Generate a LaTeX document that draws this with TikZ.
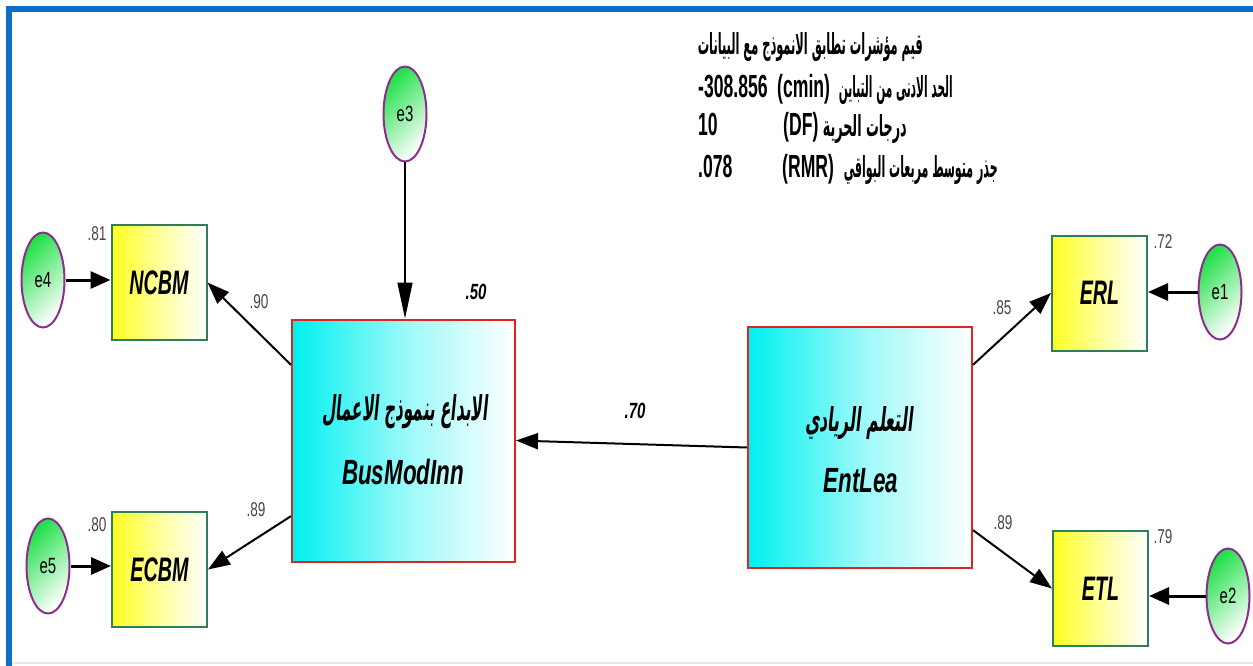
\documentclass[tikz,border=0pt]{standalone}
\usepackage{fontspec}
\usetikzlibrary{arrows.meta,calc,shapes.geometric}
\TeXXeTstate=1
\newfontfamily\arb[Script=Arabic]{DejaVu Sans}
\newfontfamily\arbsl[Script=Arabic,FakeSlant=0.22]{DejaVu Sans}
\newfontfamily\latbox[FakeStretch=0.64]{Liberation Sans}
\newfontfamily\latind[FakeStretch=0.58]{Liberation Sans}
\newfontfamily\latnum[FakeStretch=0.68]{Liberation Sans}
\newfontfamily\latblk[FakeStretch=0.55]{Liberation Sans}
\definecolor{frameblue}{HTML}{0F6FC6}
\definecolor{boxred}{HTML}{E02424}
\definecolor{obsgreen}{HTML}{2E7D5B}
\definecolor{errpurple}{HTML}{8E2C8E}
\definecolor{errgreen}{HTML}{22E04A}
\definecolor{latcyan}{HTML}{00F0F0}
\definecolor{obsyellow}{HTML}{FFFF20}
\definecolor{lblgray}{HTML}{444444}
\tikzset{
  latent/.style={draw=boxred, line width=2pt, minimum width=223pt, minimum height=242pt,
    inner sep=0pt, left color=latcyan, right color=white, middle color=latcyan!40},
  obs/.style={draw=obsgreen, line width=2pt, minimum width=95pt, minimum height=115pt,
    inner sep=0pt, left color=obsyellow, right color=white, middle color=obsyellow!45,
    font=\latind\bfseries\itshape\fontsize{34}{34}\selectfont},
  err/.style={ellipse, draw=errpurple, line width=2pt, minimum width=43pt, minimum height=95pt,
    inner sep=0pt, top color=errgreen, bottom color=white, shading angle=45,
    font=\latnum\fontsize{22}{22}\selectfont},
  boxlat/.style={inner sep=0pt, font=\latbox\bfseries\itshape\fontsize{35}{35}\selectfont},
  boxarb/.style={inner sep=0pt},
  coef/.style={inner sep=0pt, text=lblgray, font=\latnum\fontsize{20}{20}\selectfont},
  bcoef/.style={inner sep=0pt, font=\latnum\bfseries\itshape\fontsize{22}{22}\selectfont},
  blk/.style={inner sep=0pt, anchor=base west, font=\latblk\bfseries\fontsize{32}{32}\selectfont},
  blkarb/.style={inner sep=0pt, anchor=base east},
  path/.style={line width=2pt, -{Triangle[length=22pt,width=16pt]}},
  errpath/.style={line width=3pt, -{Triangle[length=20pt,width=17pt]}},
  e3path/.style={line width=1.5pt, -{Triangle[length=36pt,width=15pt]}},
}
\begin{document}
\begin{tikzpicture}[x=1pt,y=-1pt]
\useasboundingbox (0,0) rectangle (1253,666);
% frame
\draw[draw=frameblue!15, line width=1.5pt] (9,663) -- (1253,663);
\draw[draw=frameblue, line width=6pt] (9,666) -- (9,9) -- (1253,9);

% latent variables
\node[latent] (bus) at (403.5,440.5) {};
\node[boxarb] (busA) at (405,412) {\resizebox{165pt}{26pt}{\arbsl\bfseries\beginR الابداع بنموذج الاعمال\endR}};
\node[boxlat] (busL) at (403,472) {BusModInn};

\node[latent, minimum width=224pt, minimum height=241pt] (ent) at (860,447.5) {};
\node[boxarb] (entA) at (859,423) {\resizebox{108pt}{25pt}{\arbsl\bfseries\beginR التعلم الريادي\endR}};
\node[boxlat] (entL) at (861,481) {EntLea};

% observed variables
\node[obs] (ncbm) at (159,282.5) {NCBM};
\node[obs] (ecbm) at (159.5,569.5) {ECBM};
\node[obs] (erl) at (1099.5,293) {ERL};
\node[obs] (etl) at (1100.5,588.5) {ETL};

% error terms
\node[err] (e4) at (43,280) {e4};
\node[err] (e5) at (48,566) {e5};
\node[err] (e3) at (405,114) {e3};
\node[err] (e1) at (1220,292) {e1};
\node[err] (e2) at (1228,596) {e2};

% structural paths
\draw[path] (ent.west) -- (bus.east);
\draw[e3path] (e3.south) -- (e3.south |- bus.north);
\draw[path] ($(bus.north west)!0.19!(bus.south west)$) -- (ncbm.east);
\draw[path] ($(bus.north west)!0.81!(bus.south west)$) -- (ecbm.east);
\draw[path] ($(ent.north east)!0.16!(ent.south east)$) -- (erl.west);
\draw[path] ($(ent.north east)!0.84!(ent.south east)$) -- (etl.west);

% error paths
\draw[errpath] (e4.east) -- (e4.east -| ncbm.west);
\draw[errpath] (e5.east) -- (e5.east -| ecbm.west);
\draw[errpath] (e1.west) -- (e1.west -| erl.east);
\draw[errpath] (e2.west) -- (e2.west -| etl.east);

% coefficients
\node[coef] (c81) at (97,234) {.81};
\node[coef] (c80) at (97,525) {.80};
\node[coef] (c90) at (259,302) {.90};
\node[coef] (c89a) at (256,510) {.89};
\node[coef] (c72) at (1163,242) {.72};
\node[coef] (c79) at (1163,537) {.79};
\node[coef] (c85) at (1002,308) {.85};
\node[coef] (c89b) at (1003,523) {.89};
\node[bcoef] (c50) at (476,292) {.50};
\node[bcoef] (c70) at (635,411) {.70};

% fit indices block
\node[blkarb] (t1) at (923,55) {\resizebox{225pt}{22pt}{\arb\bfseries\beginR قيم مؤشرات تطابق الانموذج مع البيانات\endR}};
\node[blk] (n2) at (698,98) {-308.856};
\node[blk] (p2) at (777,98) {(cmin)};
\node[blkarb] (a2) at (953,98) {\resizebox{114pt}{22pt}{\arb\bfseries\beginR الحد الادنى من التباين\endR}};
\node[blk] (n3) at (698,136) {10};
\node[blk] (p3) at (783,136) {(DF)};
\node[blkarb] (a3) at (907,136) {\resizebox{84pt}{22pt}{\arb\bfseries\beginR درجات الحرية\endR}};
\node[blk] (n4) at (698,178) {.078};
\node[blk] (p4) at (782,178) {(RMR)};
\node[blkarb] (a4) at (998,178) {\resizebox{154pt}{22pt}{\arb\bfseries\beginR جذر متوسط مربعات البواقي\endR}};
\end{tikzpicture}
\end{document}
